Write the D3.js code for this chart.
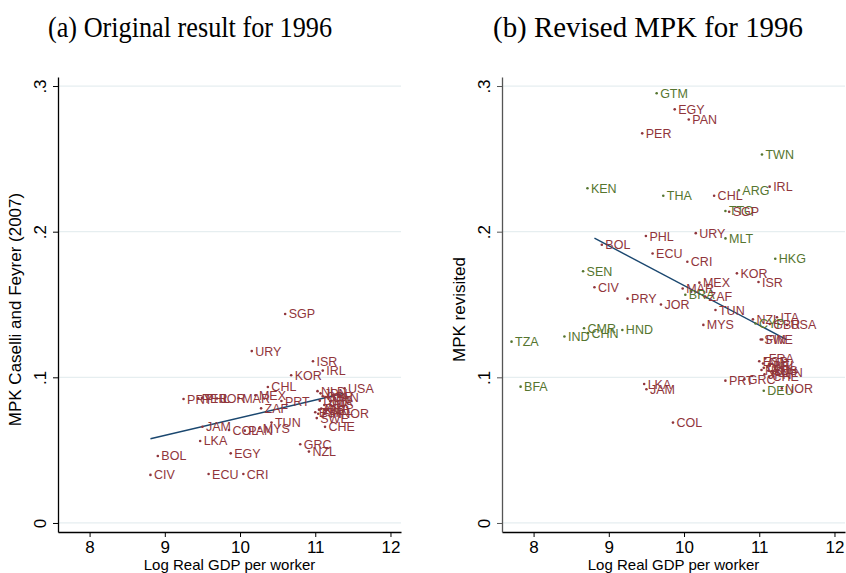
<!DOCTYPE html>
<html>
<head>
<meta charset="utf-8">
<script src="https://cdn.jsdelivr.net/npm/d3@7"></script>
<style>
  body { margin: 0; background: #fff; }
  svg { display: block; }
</style>
</head>
<body>
<svg id="chart" width="846" height="573"></svg>
<script>
// ---- axes ----
const xTicks = [8, 9, 10, 11, 12];
const yTicks = [0, 0.1, 0.2, 0.3];
const yTickLabels = ["0", ".1", ".2", ".3"];

// ---- panel (a): Caselli & Feyrer (2007) MPK, 1996 ----
const codesA = ["SGP","URY","ISR","IRL","KOR","CHL","MEX","PRT","ZAF","PRY","PHL","PER","JOR","MAR",
  "JAM","COL","PAN","MYS","TUN","LKA","EGY","GRC","NZL","BOL","CIV","ECU","CRI",
  "NLD","USA","JPN","GBR","CAN","ITA","DNK","AUS","FRA","AUT","BEL","NOR","FIN","ESP","SWE","CHE"];
const gdpA = [10.60,10.156,10.97,11.10,10.68,10.37,10.204,10.55,10.28,9.249,9.493,9.444,9.693,9.982,
  9.50,9.853,10.063,10.257,10.418,9.47,9.876,10.80,10.916,8.907,8.809,9.582,10.044,
  11.03,11.39,11.07,11.10,11.18,11.20,11.06,11.12,11.08,11.05,11.14,11.30,11.04,11.00,11.02,11.13];
const mpkA = [0.1435,0.118,0.111,0.1046,0.1014,0.0934,0.0877,0.0837,0.0787,0.0851,0.0858,0.0856,0.0855,0.0857,
  0.0661,0.0638,0.0634,0.0650,0.0689,0.0563,0.0478,0.0540,0.0490,0.0460,0.0330,0.0336,0.0336,
  0.0905,0.0925,0.0890,0.0870,0.0860,0.0835,0.0840,0.0810,0.0785,0.0778,0.0770,0.0755,0.0750,0.0760,0.0720,0.0660];
const fitA = [[8.809, 0.0578], [11.37, 0.0889]];

// ---- panel (b): revised MPK, 1996 (new = countries added in the revised sample) ----
const codesB = ["GTM","EGY","PAN","PER","TWN","KEN","THA","CHL","ARG","IRL","TTO","SGP","PHL","URY","MLT",
  "BOL","ECU","CRI","HKG","SEN","KOR","ISR","CIV","MEX","MAR","BRA","ZAF","PRY","JOR","TUN","MYS",
  "CMR","CHN","IND","HND","TZA","BFA","NZL","ITA","CYP","GBR","USA","SWE","FIN",
  "FRA","ESP","AUT","BEL","DNK","NLD","AUS","CAN","JPN","CHE","PRT","GRC","LKA","JAM","DEU","NOR","COL"];
const gdpB = [9.636,9.876,10.063,9.444,11.036,8.716,9.724,10.40,10.729,11.138,10.55,10.60,9.493,10.156,10.551,
  8.907,9.582,10.044,11.213,8.658,10.703,10.99,8.809,10.204,9.982,10.017,10.28,9.249,9.693,10.418,10.257,
  8.671,8.724,8.41,9.18,7.707,7.827,10.916,11.236,10.95,11.14,11.37,11.02,11.04,
  11.08,11.00,11.05,11.14,11.06,11.03,11.12,11.18,11.07,11.13,10.55,10.80,9.47,9.50,11.06,11.30,9.853];
const mpkB = [0.295,0.284,0.277,0.2675,0.253,0.2298,0.2247,0.2247,0.2284,0.2309,0.2142,0.2137,0.197,0.199,0.1954,
  0.191,0.185,0.1794,0.1814,0.1728,0.1714,0.1654,0.1618,0.165,0.161,0.1567,0.1555,0.154,0.150,0.1462,0.136,
  0.1337,0.1304,0.128,0.1325,0.1245,0.0936,0.1398,0.1412,0.137,0.1366,0.136,0.126,0.126,
  0.113,0.111,0.1095,0.108,0.1065,0.105,0.1045,0.103,0.102,0.1005,0.0977,0.0986,0.0954,0.0918,0.0908,0.0924,0.0689];
const newB = ["GTM","TWN","KEN","THA","ARG","TTO","MLT","HKG","SEN","BRA","CMR","CHN","IND","HND","TZA","BFA","CYP","DEU"];
const fitB = [[8.809, 0.1955], [11.37, 0.1257]];

// ---- styling ----
const NAVY = "#1a476f", MAROON = "#90353b", GREEN = "#55752f";
const FONT = "'Liberation Sans', Arial, Helvetica, sans-serif";
const PLOT_W = 343, TOP = 77, BOTTOM = 532;

const svg = d3.select("#chart");

function panel(opts) {
  const x = d3.scaleLinear().domain([7.58, 12.14]).range([opts.left, opts.left + PLOT_W]);
  const y = d3.scaleLinear().domain([-0.0062, 0.3062]).range([BOTTOM, TOP]);
  const g = svg.append("g");

  // title (slightly condensed serif face)
  svg.append("text")
    .attr("x", opts.titleX).attr("y", 37)
    .attr("text-anchor", "middle")
    .attr("textLength", opts.titleLen)
    .attr("lengthAdjust", "spacingAndGlyphs")
    .style("font-family", "'Liberation Serif', 'Times New Roman', serif")
    .style("font-size", "28.5px")
    .style("fill", "#000")
    .text(opts.title);

  // horizontal grid
  g.append("g").selectAll("line").data(yTicks).join("line")
    .attr("x1", x.range()[0]).attr("x2", x.range()[1])
    .attr("y1", d => y(d)).attr("y2", d => y(d))
    .attr("stroke", "#e6eef0").attr("stroke-width", 1.2);

  // x axis
  const xa = g.append("g").attr("transform", `translate(0,${BOTTOM})`)
    .call(d3.axisBottom(x).tickValues(xTicks).tickFormat(d3.format("d"))
      .tickSize(5).tickSizeOuter(0).tickPadding(4));
  xa.select(".domain").attr("stroke", "#000").attr("stroke-width", 1.3);
  xa.selectAll(".tick line").attr("stroke", "#000");
  xa.selectAll("text").style("font-family", FONT).style("font-size", "17px").attr("fill", "#000");

  // y axis with vertical tick labels
  const ya = g.append("g").attr("transform", `translate(${opts.left},0)`)
    .call(d3.axisLeft(y).tickValues(yTicks).tickFormat((d, i) => yTickLabels[i])
      .tickSize(5).tickSizeOuter(0));
  ya.select(".domain").attr("stroke", opts.yAxisColor).attr("stroke-width", 1.3);
  ya.selectAll(".tick line").attr("stroke", opts.yAxisColor);
  ya.selectAll("text")
    .attr("transform", "rotate(-90)")
    .attr("x", 0).attr("y", -12).attr("dy", 0)
    .attr("text-anchor", "middle")
    .style("font-family", FONT).style("font-size", "17px").attr("fill", "#000");

  // axis titles
  g.append("text")
    .attr("x", opts.left + PLOT_W / 2).attr("y", 570)
    .attr("text-anchor", "middle")
    .style("font-family", FONT).style("font-size", "15px")
    .text("Log Real GDP per worker");
  g.append("text")
    .attr("transform", `translate(${opts.left - 37},${(TOP + BOTTOM) / 2 + 5}) rotate(-90)`)
    .attr("text-anchor", "middle")
    .style("font-family", FONT).style("font-size", "17px")
    .text(opts.yTitle);

  // fitted line
  g.append("path")
    .datum(opts.fit)
    .attr("d", d3.line().x(d => x(d[0])).y(d => y(d[1])))
    .attr("fill", "none").attr("stroke", NAVY).attr("stroke-width", 1.4);

  // labelled markers
  const pts = opts.codes.map((c, i) => ({ code: c, gdp: opts.gdp[i], mpk: opts.mpk[i],
    color: opts.isNew && opts.isNew.includes(c) ? GREEN : MAROON }));
  const m = g.append("g").selectAll("g").data(pts).join("g")
    .attr("transform", d => `translate(${x(d.gdp)},${y(d.mpk)})`);
  m.append("circle").attr("r", 1.3).attr("fill", d => d.color);
  m.append("text")
    .attr("x", 3.5).attr("dy", "0.36em")
    .style("font-family", FONT).style("font-size", "12.5px")
    .attr("fill", d => d.color)
    .text(d => d.code);
}

panel({ left: 58, titleX: 190, titleLen: 284, title: "(a) Original result for 1996",
  yTitle: "MPK Caselli and Feyrer (2007)", yAxisColor: "#000",
  codes: codesA, gdp: gdpA, mpk: mpkA, fit: fitA });
panel({ left: 502, titleX: 648, titleLen: 310, title: "(b) Revised MPK for 1996",
  yTitle: "MPK revisited", yAxisColor: "#555",
  codes: codesB, gdp: gdpB, mpk: mpkB, isNew: newB, fit: fitB });
</script>
</body>
</html>
